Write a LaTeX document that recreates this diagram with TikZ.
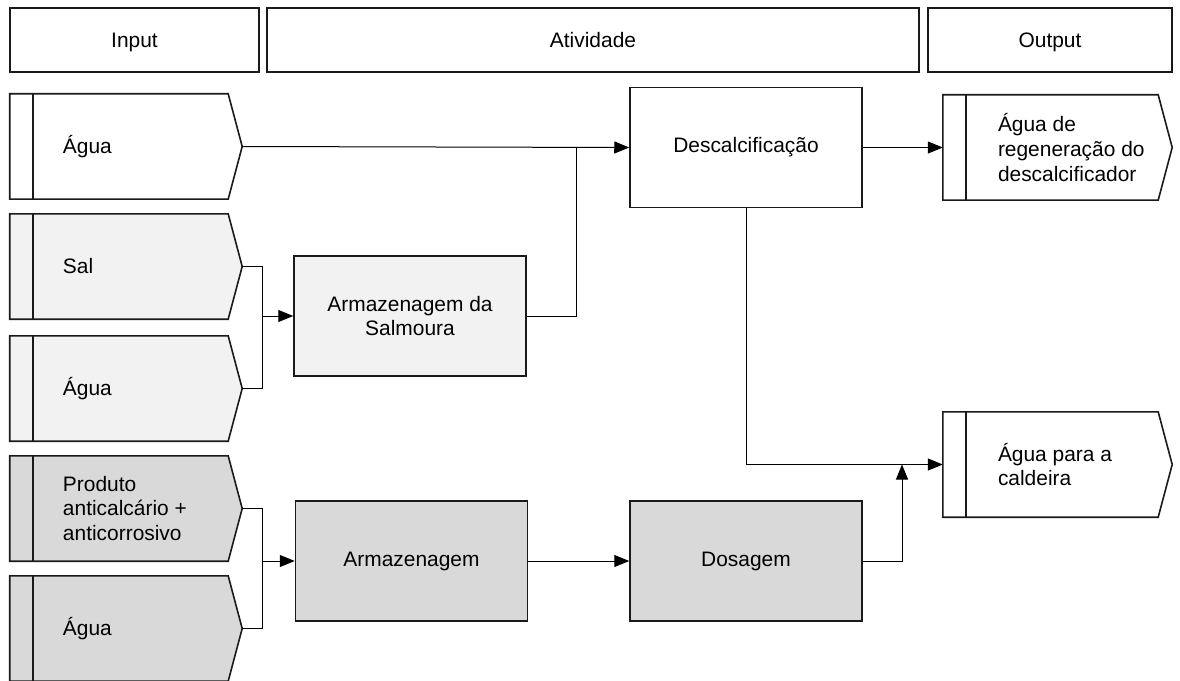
\documentclass[tikz,border=0pt]{standalone}
\usepackage{fontspec}
\setmainfont{Liberation Sans}
\usetikzlibrary{arrows.meta}
\definecolor{lightfill}{HTML}{F2F2F2}
\definecolor{midfill}{HTML}{D9D9D9}
\definecolor{edge}{HTML}{1A1A1A}
% flow shape: box with a pointed right side and a narrow strip on the left
\newcommand\flowshape[2]{%
  \path[chevron, fill=#2] (#1.north west) -- ([xshift=-14bp]#1.north east) -- (#1.east)
    -- ([xshift=-14bp]#1.south east) -- (#1.south west) -- cycle;
  \draw[chevron] ([xshift=23bp]#1.north west) -- ([xshift=23bp]#1.south west);}
\begin{document}
\begin{tikzpicture}[x=1bp,y=-1bp,
  font=\fontsize{21}{25}\selectfont,
  hdr/.style={draw=edge, line width=1.4bp, minimum height=64bp, inner sep=0,
    text height=0.72em, text depth=0.2em},
  hdrtext/.style={inner sep=0, anchor=base},
  proc/.style={draw=edge, line width=1.5bp, minimum width=232bp, minimum height=120bp, align=center, inner sep=0},
  flowarea/.style={minimum width=#1, minimum height=105bp, inner sep=0},
  chevron/.style={draw=edge, line width=1.6bp, line join=miter},
  lbl/.style={anchor=west, align=left, inner sep=0},
  link/.style={draw=black, line width=1bp},
  arr/.style={link, -{Triangle[length=15bp,width=12bp]}}
]
\useasboundingbox[fill=white] (0,0) rectangle (1180,681);

% column headers
\node[hdr, minimum width=249bp] (hin)  at (134.5,40) {};
\node[hdr, minimum width=652bp] (hact) at (593,40)   {};
\node[hdr, minimum width=244bp] (hout) at (1050,40)  {};
\node[hdrtext] (thin)  at (134.5,48) {Input};
\node[hdrtext] (thact) at (593,48)   {Atividade};
\node[hdrtext] (thout) at (1050,48)  {Output};

% inputs
\node[flowarea=232bp] (agua1) at (126,146.5) {};
\node[flowarea=232bp] (sal)   at (126,266.5) {};
\node[flowarea=232bp] (agua2) at (126,388.5) {};
\node[flowarea=232bp] (prod)  at (126,508.5) {};
\node[flowarea=232bp] (agua3) at (126,628.5) {};
\flowshape{agua1}{white}
\flowshape{sal}{lightfill}
\flowshape{agua2}{lightfill}
\flowshape{prod}{midfill}
\flowshape{agua3}{midfill}
\node[lbl] (tagua1) at ([xshift=53bp]agua1.west) {Água};
\node[lbl] (tsal)   at ([xshift=53bp]sal.west)   {Sal};
\node[lbl] (tagua2) at ([xshift=53bp]agua2.west) {Água};
\node[lbl] (tprod)  at ([xshift=53bp]prod.west)  {Produto\\anticalcário +\\anticorrosivo};
\node[lbl] (tagua3) at ([xshift=53bp]agua3.west) {Água};

% outputs
\node[flowarea=229bp] (regen) at (1057.5,147.5) {};
\node[flowarea=229bp] (cald)  at (1057.5,464.5) {};
\flowshape{regen}{white}
\flowshape{cald}{white}
\node[lbl] (tregen) at ([xshift=55bp]regen.west) {Água de\\regeneração do\\descalcificador};
\node[lbl] (tcald)  at ([xshift=55bp]cald.west)  {Água para a\\caldeira};

% activities
\node[proc, fill=white]     (desc) at (746,147.5) {Descalcificação};
\node[proc, fill=lightfill] (salm) at (410,316)   {Armazenagem da\\Salmoura};
\node[proc, fill=midfill]   (arm)  at (411.5,561) {Armazenagem};
\node[proc, fill=midfill]   (dos)  at (746,561)   {Dosagem};

% junction points
\coordinate (b1) at (262,316);
\coordinate (b2) at (262,561);
\coordinate (j1) at (576,147.5);
\coordinate (j2) at (902,464.5);

% connectors
\draw[arr] (agua1.east) -- (desc.west);
\draw[link] (salm.east) -| (j1);
\draw[link] (sal.east) -- (sal.east -| b1) -- (agua2.east -| b1) -- (agua2.east);
\draw[arr] (b1) -- (salm.west);
\draw[link] (prod.east) -- (prod.east -| b2) -- (agua3.east -| b2) -- (agua3.east);
\draw[arr] (b2) -- (arm.west);
\draw[arr] (desc.east) -- (regen.west);
\draw[arr] (desc.south) |- (cald.west);
\draw[arr] (arm.east) -- (dos.west);
\draw[arr] (dos.east) -| (j2);
\end{tikzpicture}
\end{document}
